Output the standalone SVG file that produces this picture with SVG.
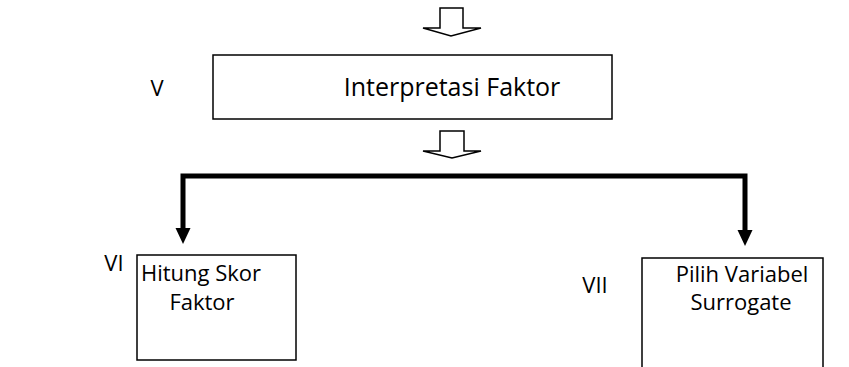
<svg xmlns="http://www.w3.org/2000/svg" width="849" height="367" viewBox="0 0 849 367">
<style>
.box{fill:#fff;stroke:#000;stroke-width:1.5}
.blk{fill:#fff;stroke:#000;stroke-width:1.5;stroke-linejoin:miter}
.t{font-family:"Open Sans","Liberation Sans",sans-serif;font-size:22px;fill:#000}
.big{font-size:25px}
.c{text-anchor:middle}
.conn{fill:none;stroke:#000;stroke-width:5;stroke-linejoin:miter}
.head{fill:#000}
</style>
<rect width="849" height="367" fill="#fff"/>
<g id="arrow-top">
<polygon class="blk" points="440,8 463,8 463,28 481,28 451,36 423,28 440,28"/>
</g>
<g id="node-v">
<text class="t c" x="157" y="96">V</text>
<rect class="box" x="213" y="55" width="399" height="64"/>
<text class="t big c" x="452" y="96">Interpretasi Faktor</text>
</g>
<g id="arrow-mid">
<polygon class="blk" points="440,131 464,131 464,151 481,151 452,158 423,151 440,151"/>
</g>
<g id="connectors">
<path class="conn" d="M183,230 V176 H745 V230"/>
<polygon class="head" points="175.5,228 190.5,228 183,244"/>
<polygon class="head" points="737.5,230 752.5,230 745,246"/>
</g>
<g id="node-vi">
<text class="t c" x="114" y="271">VI</text>
<rect class="box" x="137" y="255" width="159" height="105"/>
<text class="t c" x="201" y="281">Hitung Skor</text>
<text class="t c" x="202" y="310">Faktor</text>
</g>
<g id="node-vii">
<text class="t c" x="595" y="293">VII</text>
<rect class="box" x="642" y="258" width="181" height="130"/>
<text class="t c" x="742" y="282">Pilih Variabel</text>
<text class="t c" x="741" y="310">Surrogate</text>
</g>
</svg>
